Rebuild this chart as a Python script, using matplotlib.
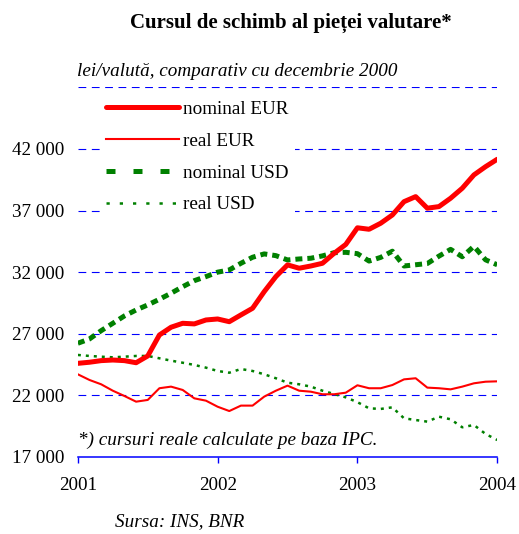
import matplotlib
matplotlib.use("Agg")
import matplotlib.pyplot as plt
import numpy as np
from matplotlib.lines import Line2D

plt.rcParams["font.family"] = ["Liberation Serif", "DejaVu Serif"]

# monthly values, Jan 2001 .. Jan 2004 (lei per currency unit)
nominal_eur = [24600, 24690, 24820, 24870, 24820, 24650, 25200, 26900, 27530,
               27850, 27800, 28120, 28200, 27980, 28530, 29070, 30420, 31640,
               32590, 32320, 32500, 32720, 33530, 34250, 35600, 35480, 35970,
               36640, 37720, 38130, 37190, 37320, 38000, 38810, 39890, 40560,
               41160]
real_eur = [23710, 23250, 22900, 22380, 21950, 21490, 21630, 22580, 22710,
            22440, 21760, 21570, 21080, 20730, 21170, 21170, 21900, 22380,
            22790, 22380, 22300, 22090, 22090, 22220, 22820, 22580, 22580,
            22840, 23300, 23390, 22630, 22580, 22490, 22710, 22980, 23110,
            23140]
nominal_usd = [26230, 26580, 27250, 27850, 28450, 28930, 29340, 29800, 30290,
               30820, 31310, 31640, 32000, 32180, 32720, 33210, 33480, 33340,
               32990, 33070, 33130, 33320, 33580, 33610, 33500, 32900, 33200,
               33700, 32500, 32600, 32700, 33300, 33850, 33250, 34100, 33000,
               32600]
real_usd = [25280, 25200, 25140, 25090, 25140, 25200, 25200, 25010, 24820,
            24650, 24470, 24250, 23980, 23840, 24140, 23980, 23710, 23390,
            23030, 22900, 22710, 22380, 22110, 21840, 21450, 20950, 20900,
            21030, 20140, 20000, 19870, 20270, 20060, 19410, 19600, 18870,
            18380]

year_ticks = [2001, 2002, 2003, 2004]
y_levels = [17000, 22000, 27000, 32000, 37000, 42000, 47000]
y_labels = [f"{v:,}".replace(",", " ") for v in y_levels[:-1]] + [""]
series_names = ["nominal EUR", "real EUR", "nominal USD", "real USD"]

RED = "#ff0000"
GREEN = "#008000"
BLUE = "#0000ff"
FS = 13.8

x = 2001 + np.arange(len(nominal_eur)) / 12

fig = plt.figure(figsize=(5.19, 5.34), dpi=100, facecolor="white")
ax = fig.add_axes([0.150, 0.1442, 0.808, 0.6923])

ax.plot(x, nominal_eur, color=RED, lw=3.6, solid_capstyle="round",
        solid_joinstyle="round", zorder=5)
ax.plot(x, real_eur, color=RED, lw=1.5, zorder=4)
ax.plot(x, nominal_usd, color=GREEN, lw=3.6, dashes=(1.4, 1.0), zorder=4)
ax.plot(x, real_usd, color=GREEN, lw=1.8, dashes=(1.2, 2.0), zorder=3)

ax.set_xlim(year_ticks[0], year_ticks[-1])
ax.set_ylim(y_levels[0], y_levels[-1])
ax.set_xticks(year_ticks)
ax.set_yticks(y_levels)
ax.set_yticklabels(y_labels)
ax.tick_params(axis="y", length=0, pad=10, labelsize=FS)
ax.tick_params(axis="x", direction="out", length=4.3, width=1, color=BLUE,
               pad=10, labelsize=FS)

for s in ("left", "right", "top"):
    ax.spines[s].set_visible(False)
ax.spines["bottom"].set_color(BLUE)
ax.spines["bottom"].set_linewidth(1.1)

for lvl in y_levels[1:]:
    ax.axhline(lvl, color=BLUE, lw=0.8, dashes=(7, 5), zorder=1)

# legend uses its own (wider) dash patterns, like the original
handles = [
    Line2D([], [], color=RED, lw=3.6, solid_capstyle="round"),
    Line2D([], [], color=RED, lw=1.5),
    Line2D([], [], color=GREEN, lw=3.6, dashes=(1.8, 3.6)),
    Line2D([], [], color=GREEN, lw=1.8, dashes=(1.3, 4.0)),
]
leg = ax.legend(handles, series_names, loc="upper left",
                bbox_to_anchor=(0.052, 0.982), frameon=True, fontsize=FS,
                handlelength=3.8, handletextpad=0.2, labelspacing=0.75,
                borderpad=0.35, borderaxespad=0)
leg.get_frame().set_facecolor("white")
leg.get_frame().set_edgecolor("none")
leg.get_frame().set_alpha(1)
leg.set_zorder(6)

ax.text(0.0, 0.046, "*) cursuri reale calculate pe baza IPC.",
        transform=ax.transAxes, fontsize=FS, style="italic", va="center",
        ha="left")

fig.text(0.561, 0.957, "Cursul de schimb al pieței valutare*", fontsize=15,
         fontweight="bold", ha="center", va="center")
fig.text(0.148, 0.867, "lei/valută, comparativ cu decembrie 2000",
         fontsize=FS, style="italic", ha="left", va="center")
fig.text(0.222, 0.0225, "Sursa: INS, BNR", fontsize=FS, style="italic",
         ha="left", va="center")

fig.savefig("out.png", dpi=100, facecolor="white")
